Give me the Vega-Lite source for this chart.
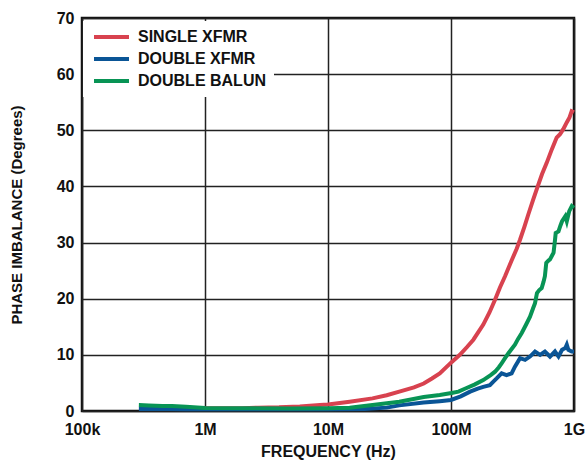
{
  "$schema": "https://vega.github.io/schema/vega-lite/v6.json",
  "autosize": "none",
  "width": 492,
  "height": 393,
  "padding": {"left": 82, "top": 18, "right": 14, "bottom": 51},
  "background": "white",
  "config": {
    "view": {"stroke": "#111", "strokeWidth": 2.5},
    "font": "Liberation Sans"
  },
  "data": {
    "values": [
      {"freq": 300000, "deg": 0.5, "series": "SINGLE XFMR"},
      {"freq": 500000, "deg": 0.5, "series": "SINGLE XFMR"},
      {"freq": 1000000, "deg": 0.5, "series": "SINGLE XFMR"},
      {"freq": 2000000, "deg": 0.5, "series": "SINGLE XFMR"},
      {"freq": 2700000, "deg": 0.6, "series": "SINGLE XFMR"},
      {"freq": 4000000, "deg": 0.65, "series": "SINGLE XFMR"},
      {"freq": 5900000, "deg": 0.8, "series": "SINGLE XFMR"},
      {"freq": 8600000, "deg": 1.05, "series": "SINGLE XFMR"},
      {"freq": 10000000, "deg": 1.15, "series": "SINGLE XFMR"},
      {"freq": 15000000, "deg": 1.65, "series": "SINGLE XFMR"},
      {"freq": 23000000, "deg": 2.25, "series": "SINGLE XFMR"},
      {"freq": 30000000, "deg": 2.8, "series": "SINGLE XFMR"},
      {"freq": 38000000, "deg": 3.45, "series": "SINGLE XFMR"},
      {"freq": 50000000, "deg": 4.2, "series": "SINGLE XFMR"},
      {"freq": 60000000, "deg": 4.9, "series": "SINGLE XFMR"},
      {"freq": 70000000, "deg": 5.8, "series": "SINGLE XFMR"},
      {"freq": 81000000, "deg": 6.7, "series": "SINGLE XFMR"},
      {"freq": 101000000, "deg": 8.7, "series": "SINGLE XFMR"},
      {"freq": 118000000, "deg": 10.0, "series": "SINGLE XFMR"},
      {"freq": 135000000, "deg": 11.4, "series": "SINGLE XFMR"},
      {"freq": 152000000, "deg": 12.7, "series": "SINGLE XFMR"},
      {"freq": 183000000, "deg": 15.4, "series": "SINGLE XFMR"},
      {"freq": 205000000, "deg": 17.5, "series": "SINGLE XFMR"},
      {"freq": 228000000, "deg": 19.8, "series": "SINGLE XFMR"},
      {"freq": 250000000, "deg": 22.0, "series": "SINGLE XFMR"},
      {"freq": 275000000, "deg": 24.0, "series": "SINGLE XFMR"},
      {"freq": 311000000, "deg": 26.8, "series": "SINGLE XFMR"},
      {"freq": 342000000, "deg": 28.9, "series": "SINGLE XFMR"},
      {"freq": 364000000, "deg": 30.5, "series": "SINGLE XFMR"},
      {"freq": 395000000, "deg": 32.8, "series": "SINGLE XFMR"},
      {"freq": 425000000, "deg": 35.0, "series": "SINGLE XFMR"},
      {"freq": 465000000, "deg": 37.6, "series": "SINGLE XFMR"},
      {"freq": 507000000, "deg": 40.0, "series": "SINGLE XFMR"},
      {"freq": 550000000, "deg": 42.2, "series": "SINGLE XFMR"},
      {"freq": 600000000, "deg": 44.2, "series": "SINGLE XFMR"},
      {"freq": 660000000, "deg": 46.6, "series": "SINGLE XFMR"},
      {"freq": 723000000, "deg": 48.7, "series": "SINGLE XFMR"},
      {"freq": 770000000, "deg": 49.3, "series": "SINGLE XFMR"},
      {"freq": 818000000, "deg": 50.2, "series": "SINGLE XFMR"},
      {"freq": 873000000, "deg": 51.4, "series": "SINGLE XFMR"},
      {"freq": 920000000, "deg": 52.3, "series": "SINGLE XFMR"},
      {"freq": 957000000, "deg": 53.4, "series": "SINGLE XFMR"},
      {"freq": 1000000000, "deg": 53.2, "series": "SINGLE XFMR"},
      {"freq": 290000, "deg": 0.35, "series": "DOUBLE XFMR"},
      {"freq": 500000, "deg": 0.35, "series": "DOUBLE XFMR"},
      {"freq": 700000, "deg": 0.3, "series": "DOUBLE XFMR"},
      {"freq": 1000000, "deg": 0.3, "series": "DOUBLE XFMR"},
      {"freq": 3000000, "deg": 0.3, "series": "DOUBLE XFMR"},
      {"freq": 10000000, "deg": 0.3, "series": "DOUBLE XFMR"},
      {"freq": 20000000, "deg": 0.35, "series": "DOUBLE XFMR"},
      {"freq": 30000000, "deg": 0.6, "series": "DOUBLE XFMR"},
      {"freq": 38000000, "deg": 1.0, "series": "DOUBLE XFMR"},
      {"freq": 60000000, "deg": 1.5, "series": "DOUBLE XFMR"},
      {"freq": 81000000, "deg": 1.75, "series": "DOUBLE XFMR"},
      {"freq": 100000000, "deg": 1.96, "series": "DOUBLE XFMR"},
      {"freq": 120000000, "deg": 2.6, "series": "DOUBLE XFMR"},
      {"freq": 143000000, "deg": 3.45, "series": "DOUBLE XFMR"},
      {"freq": 165000000, "deg": 4.0, "series": "DOUBLE XFMR"},
      {"freq": 183000000, "deg": 4.3, "series": "DOUBLE XFMR"},
      {"freq": 207000000, "deg": 4.6, "series": "DOUBLE XFMR"},
      {"freq": 220000000, "deg": 5.2, "series": "DOUBLE XFMR"},
      {"freq": 235000000, "deg": 5.8, "series": "DOUBLE XFMR"},
      {"freq": 258000000, "deg": 6.7, "series": "DOUBLE XFMR"},
      {"freq": 283000000, "deg": 6.4, "series": "DOUBLE XFMR"},
      {"freq": 311000000, "deg": 6.7, "series": "DOUBLE XFMR"},
      {"freq": 331000000, "deg": 7.9, "series": "DOUBLE XFMR"},
      {"freq": 364000000, "deg": 9.4, "series": "DOUBLE XFMR"},
      {"freq": 400000000, "deg": 9.1, "series": "DOUBLE XFMR"},
      {"freq": 439000000, "deg": 9.7, "series": "DOUBLE XFMR"},
      {"freq": 482000000, "deg": 10.6, "series": "DOUBLE XFMR"},
      {"freq": 530000000, "deg": 10.0, "series": "DOUBLE XFMR"},
      {"freq": 580000000, "deg": 10.6, "series": "DOUBLE XFMR"},
      {"freq": 638000000, "deg": 9.7, "series": "DOUBLE XFMR"},
      {"freq": 700000000, "deg": 10.6, "series": "DOUBLE XFMR"},
      {"freq": 748000000, "deg": 9.7, "series": "DOUBLE XFMR"},
      {"freq": 800000000, "deg": 10.9, "series": "DOUBLE XFMR"},
      {"freq": 850000000, "deg": 11.2, "series": "DOUBLE XFMR"},
      {"freq": 874000000, "deg": 11.8, "series": "DOUBLE XFMR"},
      {"freq": 900000000, "deg": 10.9, "series": "DOUBLE XFMR"},
      {"freq": 957000000, "deg": 10.6, "series": "DOUBLE XFMR"},
      {"freq": 1000000000, "deg": 10.6, "series": "DOUBLE XFMR"},
      {"freq": 290000, "deg": 1.05, "series": "DOUBLE BALUN"},
      {"freq": 350000, "deg": 1.0, "series": "DOUBLE BALUN"},
      {"freq": 450000, "deg": 0.9, "series": "DOUBLE BALUN"},
      {"freq": 540000, "deg": 0.9, "series": "DOUBLE BALUN"},
      {"freq": 700000, "deg": 0.75, "series": "DOUBLE BALUN"},
      {"freq": 1000000, "deg": 0.55, "series": "DOUBLE BALUN"},
      {"freq": 2000000, "deg": 0.5, "series": "DOUBLE BALUN"},
      {"freq": 5000000, "deg": 0.45, "series": "DOUBLE BALUN"},
      {"freq": 10000000, "deg": 0.5, "series": "DOUBLE BALUN"},
      {"freq": 15000000, "deg": 0.6, "series": "DOUBLE BALUN"},
      {"freq": 23000000, "deg": 1.07, "series": "DOUBLE BALUN"},
      {"freq": 38000000, "deg": 1.66, "series": "DOUBLE BALUN"},
      {"freq": 60000000, "deg": 2.5, "series": "DOUBLE BALUN"},
      {"freq": 81000000, "deg": 2.85, "series": "DOUBLE BALUN"},
      {"freq": 101000000, "deg": 3.2, "series": "DOUBLE BALUN"},
      {"freq": 115000000, "deg": 3.45, "series": "DOUBLE BALUN"},
      {"freq": 131000000, "deg": 4.0, "series": "DOUBLE BALUN"},
      {"freq": 155000000, "deg": 4.7, "series": "DOUBLE BALUN"},
      {"freq": 183000000, "deg": 5.5, "series": "DOUBLE BALUN"},
      {"freq": 210000000, "deg": 6.4, "series": "DOUBLE BALUN"},
      {"freq": 228000000, "deg": 7.0, "series": "DOUBLE BALUN"},
      {"freq": 245000000, "deg": 7.8, "series": "DOUBLE BALUN"},
      {"freq": 258000000, "deg": 8.5, "series": "DOUBLE BALUN"},
      {"freq": 275000000, "deg": 9.4, "series": "DOUBLE BALUN"},
      {"freq": 293000000, "deg": 10.3, "series": "DOUBLE BALUN"},
      {"freq": 310000000, "deg": 11.0, "series": "DOUBLE BALUN"},
      {"freq": 331000000, "deg": 11.8, "series": "DOUBLE BALUN"},
      {"freq": 350000000, "deg": 12.8, "series": "DOUBLE BALUN"},
      {"freq": 376000000, "deg": 13.9, "series": "DOUBLE BALUN"},
      {"freq": 410000000, "deg": 15.5, "series": "DOUBLE BALUN"},
      {"freq": 439000000, "deg": 16.8, "series": "DOUBLE BALUN"},
      {"freq": 465000000, "deg": 18.3, "series": "DOUBLE BALUN"},
      {"freq": 482000000, "deg": 19.2, "series": "DOUBLE BALUN"},
      {"freq": 500000000, "deg": 21.0, "series": "DOUBLE BALUN"},
      {"freq": 520000000, "deg": 21.5, "series": "DOUBLE BALUN"},
      {"freq": 546000000, "deg": 21.9, "series": "DOUBLE BALUN"},
      {"freq": 565000000, "deg": 23.0, "series": "DOUBLE BALUN"},
      {"freq": 580000000, "deg": 24.0, "series": "DOUBLE BALUN"},
      {"freq": 595000000, "deg": 26.4, "series": "DOUBLE BALUN"},
      {"freq": 620000000, "deg": 26.8, "series": "DOUBLE BALUN"},
      {"freq": 638000000, "deg": 27.0, "series": "DOUBLE BALUN"},
      {"freq": 660000000, "deg": 27.6, "series": "DOUBLE BALUN"},
      {"freq": 682000000, "deg": 28.2, "series": "DOUBLE BALUN"},
      {"freq": 701000000, "deg": 30.5, "series": "DOUBLE BALUN"},
      {"freq": 710000000, "deg": 31.7, "series": "DOUBLE BALUN"},
      {"freq": 748000000, "deg": 32.0, "series": "DOUBLE BALUN"},
      {"freq": 775000000, "deg": 33.0, "series": "DOUBLE BALUN"},
      {"freq": 800000000, "deg": 33.8, "series": "DOUBLE BALUN"},
      {"freq": 850000000, "deg": 34.7, "series": "DOUBLE BALUN"},
      {"freq": 874000000, "deg": 33.8, "series": "DOUBLE BALUN"},
      {"freq": 915000000, "deg": 35.6, "series": "DOUBLE BALUN"},
      {"freq": 960000000, "deg": 36.5, "series": "DOUBLE BALUN"},
      {"freq": 1000000000, "deg": 36.2, "series": "DOUBLE BALUN"}
    ]
  },
  "mark": {"type": "line", "strokeWidth": 4, "interpolate": "linear"},
  "encoding": {
    "x": {
      "field": "freq",
      "type": "quantitative",
      "scale": {"type": "log", "domain": [100000, 1000000000], "nice": false},
      "axis": {
        "values": [100000, 1000000, 10000000, 100000000, 1000000000],
        "labelExpr": "datum.value < 1e6 ? '100k' : datum.value < 1e7 ? '1M' : datum.value < 1e8 ? '10M' : datum.value < 1e9 ? '100M' : '1G'",
        "title": "FREQUENCY (Hz)",
        "titleFont": "Liberation Sans",
        "titleFontSize": 16,
        "titleFontWeight": "bold",
        "titleColor": "#111",
        "titlePadding": 6,
        "labelFont": "Liberation Sans",
        "labelFontSize": 16,
        "labelFontWeight": "bold",
        "labelColor": "#111",
        "labelPadding": 10,
        "labelFlush": false,
        "labelOverlap": false,
        "ticks": false,
        "domain": false,
        "grid": true,
        "gridColor": "#222",
        "gridWidth": 1.5,
        "gridOpacity": 1
      }
    },
    "y": {
      "field": "deg",
      "type": "quantitative",
      "scale": {"domain": [0, 70], "nice": false},
      "axis": {
        "values": [0, 10, 20, 30, 40, 50, 60, 70],
        "title": "PHASE IMBALANCE (Degrees)",
        "titleFont": "Liberation Sans",
        "titleFontSize": 15,
        "titleFontWeight": "bold",
        "titleColor": "#111",
        "titlePadding": 32,
        "labelFont": "Liberation Sans",
        "labelFontSize": 16,
        "labelFontWeight": "bold",
        "labelColor": "#111",
        "labelPadding": 8,
        "labelFlush": false,
        "labelOverlap": false,
        "ticks": false,
        "domain": false,
        "grid": true,
        "gridColor": "#222",
        "gridWidth": 1.5,
        "gridOpacity": 1
      }
    },
    "color": {
      "field": "series",
      "type": "nominal",
      "scale": {
        "domain": ["SINGLE XFMR", "DOUBLE XFMR", "DOUBLE BALUN"],
        "range": ["#d8424f", "#0a5596", "#089455"]
      },
      "legend": {
        "title": null,
        "orient": "none",
        "legendX": 1,
        "legendY": 3,
        "fillColor": "white",
        "padding": 8,
        "symbolType": "M-1,0H6",
        "symbolSize": 100,
        "symbolStrokeWidth": 4,
        "labelFont": "Liberation Sans",
        "labelFontSize": 16,
        "labelFontWeight": "bold",
        "labelColor": "#111",
        "labelOffset": 31,
        "rowPadding": 6
      }
    }
  }
}
